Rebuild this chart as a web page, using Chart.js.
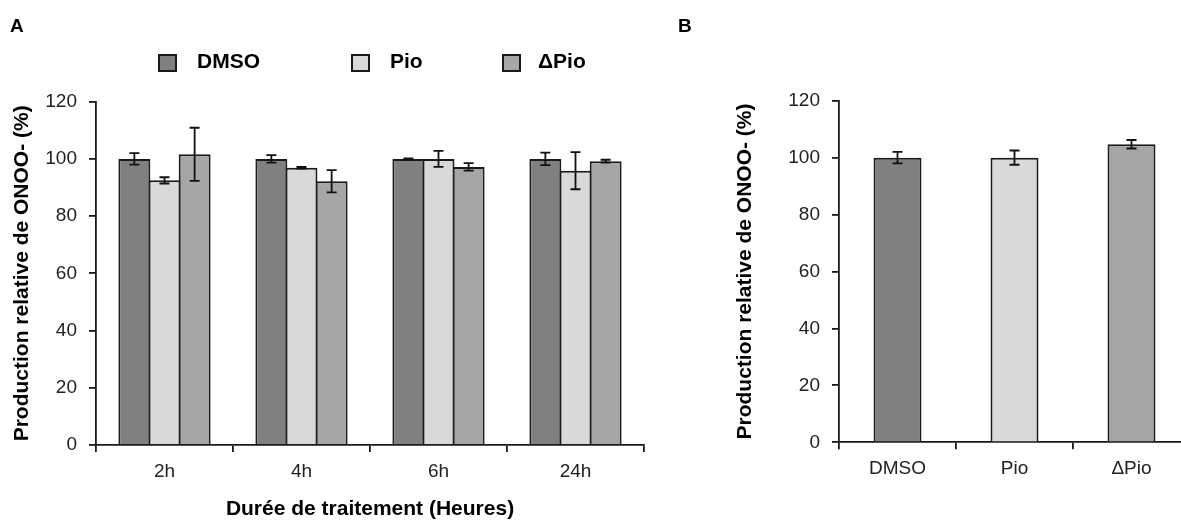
<!DOCTYPE html>
<html>
<head>
<meta charset="utf-8">
<script src="https://cdn.jsdelivr.net/npm/chart.js@4.4.0/dist/chart.umd.min.js"></script>
<style>
  html, body { margin: 0; padding: 0; background: #fff; overflow: hidden; width: 1181px; height: 522px; }
  #wrapA { position: absolute; left: 0; top: 0; width: 740px; height: 522px; }
  #wrapB { position: absolute; left: 660px; top: 0; width: 530px; height: 522px; }
</style>
</head>
<body>
<div id="wrapA"><canvas id="chartA"></canvas></div>
<div id="wrapB"><canvas id="chartB"></canvas></div>
<script>
// panel A : time course
var hours = ["2h", "4h", "6h", "24h"];
var seriesNames = ["DMSO", "Pio", "ΔPio"];
var dmso = [100, 100, 100, 100];
var dmsoErr = [2, 1.3, 0.2, 2.2];
var pio = [92.5, 96.9, 100, 95.9];
var pioErr = [1.1, 0.3, 2.8, 6.5];
var dpio = [101.6, 92.2, 97.2, 99.2];
var dpioErr = [9.3, 3.9, 1.3, 0.5];

// panel B : single time point
var treatments = ["DMSO", "Pio", "ΔPio"];
var treatmentValues = [100, 100, 104.7];
var treatmentErr = [2, 2.5, 1.5];

var yTicks = [0, 20, 40, 60, 80, 100, 120];
var yTitle = "Production relative de ONOO- (%)";
var xTitle = "Durée de traitement (Heures)";

var colors = ["#808080", "#d9d9d9", "#a6a6a6"];
var ink = "#1a1a1a";

Chart.defaults.font.family = "'Liberation Sans', Arial, sans-serif";

// error bars drawn from each dataset's "errors" array
var errorBars = {
  id: "errorBars",
  afterDatasetsDraw: function (chart) {
    var ctx = chart.ctx;
    var y = chart.scales.y;
    ctx.save();
    ctx.strokeStyle = "#111";
    ctx.lineWidth = 1.8;
    chart.data.datasets.forEach(function (ds, i) {
      var meta = chart.getDatasetMeta(i);
      meta.data.forEach(function (bar, j) {
        var top = y.getPixelForValue(ds.data[j] + ds.errors[j]);
        var bot = y.getPixelForValue(ds.data[j] - ds.errors[j]);
        var x = bar.x;
        ctx.beginPath();
        ctx.moveTo(x, top); ctx.lineTo(x, bot);
        ctx.moveTo(x - 5, top); ctx.lineTo(x + 5, top);
        ctx.moveTo(x - 5, bot); ctx.lineTo(x + 5, bot);
        ctx.stroke();
      });
    });
    ctx.restore();
  }
};

// panel letter + (optional) legend row
var decorations = {
  id: "decorations",
  afterDraw: function (chart, args, opts) {
    var ctx = chart.ctx;
    ctx.save();
    ctx.fillStyle = "#000";
    ctx.textBaseline = "middle";
    ctx.font = "bold 19px 'Liberation Sans', Arial, sans-serif";
    ctx.fillText(opts.letter, opts.letterX, 27);
    if (opts.legend) {
      var boxX = [159, 352, 503];
      var textX = [197, 390, 538];
      ctx.font = "bold 21px 'Liberation Sans', Arial, sans-serif";
      chart.data.datasets.forEach(function (ds, i) {
        ctx.fillStyle = ds.backgroundColor;
        ctx.fillRect(boxX[i], 55, 17, 16);
        ctx.strokeStyle = ink;
        ctx.lineWidth = 2;
        ctx.strokeRect(boxX[i], 55, 17, 16);
        ctx.fillStyle = "#000";
        ctx.fillText(ds.label, textX[i], 62);
      });
    }
    ctx.restore();
  }
};

function axisStyle() {
  return {
    grid: { display: true, drawOnChartArea: false, drawTicks: true, tickLength: 7, color: ink, lineWidth: 1.8 },
    border: { display: true, color: ink, width: 1.8 }
  };
}

function yScale(titlePad, width) {
  var s = axisStyle();
  s.min = 0;
  s.max = 120;
  s.afterBuildTicks = function (scale) {
    scale.ticks = yTicks.map(function (v) { return { value: v }; });
  };
  s.ticks = { color: "#222", font: { size: 19 }, padding: 12 };
  s.title = { display: true, text: yTitle, color: "#000", font: { size: 21, weight: "bold" }, padding: { top: titlePad, bottom: 0 } };
  s.afterFit = function (scale) { scale.width = width; };
  return s;
}

var xA = axisStyle();
xA.ticks = { color: "#222", font: { size: 19 }, padding: 8 };
xA.title = { display: true, text: xTitle, color: "#000", font: { size: 21, weight: "bold" }, padding: { top: 0, bottom: 0 } };
xA.afterFit = function (scale) { scale.height = 77; };

var chartA = new Chart(document.getElementById("chartA"), {
  type: "bar",
  data: {
    labels: hours,
    datasets: [
      { label: seriesNames[0], data: dmso, errors: dmsoErr, backgroundColor: colors[0] },
      { label: seriesNames[1], data: pio, errors: pioErr, backgroundColor: colors[1] },
      { label: seriesNames[2], data: dpio, errors: dpioErr, backgroundColor: colors[2] }
    ]
  },
  options: {
    responsive: true,
    maintainAspectRatio: false,
    animation: false,
    layout: { padding: { left: 0, top: 101.7, right: 96, bottom: 0 } },
    datasets: { bar: { borderColor: ink, borderWidth: 2, categoryPercentage: 0.66, barPercentage: 1.06 } },
    plugins: {
      legend: { display: false },
      tooltip: { enabled: false },
      decorations: { letter: "A", letterX: 10, legend: true }
    },
    scales: { x: xA, y: yScale(9.5, 96) }
  },
  plugins: [errorBars, decorations]
});

var xB = axisStyle();
xB.ticks = { color: "#222", font: { size: 19 }, padding: 8 };
xB.afterFit = function (scale) { scale.height = 79.7; };

var chartB = new Chart(document.getElementById("chartB"), {
  type: "bar",
  data: {
    labels: treatments,
    datasets: [
      { label: "B", data: treatmentValues, errors: treatmentErr, backgroundColor: colors }
    ]
  },
  options: {
    responsive: true,
    maintainAspectRatio: false,
    animation: false,
    layout: { padding: { left: 0, top: 100.7, right: 0, bottom: 0 } },
    datasets: { bar: { borderColor: ink, borderWidth: 2, categoryPercentage: 0.41, barPercentage: 1 } },
    plugins: {
      legend: { display: false },
      tooltip: { enabled: false },
      decorations: { letter: "B", letterX: 18, legend: false }
    },
    scales: { x: xB, y: yScale(72.5, 179) }
  },
  plugins: [errorBars, decorations]
});
</script>
</body>
</html>
